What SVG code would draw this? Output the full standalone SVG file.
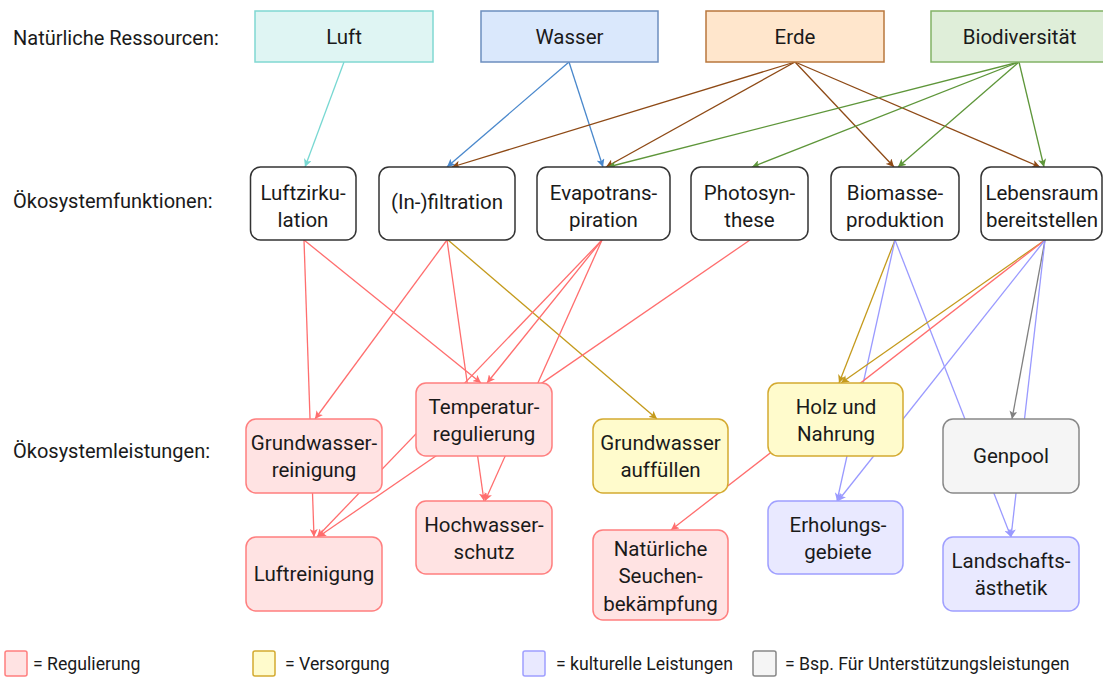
<svg xmlns="http://www.w3.org/2000/svg" width="1103" height="678" viewBox="0 0 1103 678">
<style>
text{font-family:Roboto,"Liberation Sans",sans-serif;fill:#1a1a1a;}
.lbl{font-size:20px;}
.t{font-size:20.5px;text-anchor:middle;}
.lg{font-size:17.7px;}
.fn{fill:#ffffff;stroke:#333333;stroke-width:1.5;}
.red{fill:#ffe3e3;stroke:#ff7f7f;stroke-width:1.5;}
.yel{fill:#fffbcc;stroke:#d4aa30;stroke-width:1.5;}
.pur{fill:#e9e9ff;stroke:#9f9fff;stroke-width:1.5;}
.gry{fill:#f5f5f5;stroke:#888888;stroke-width:1.5;}
.c{fill:none;stroke-width:1.3;}
.cy{stroke:#78d8d2;marker-end:url(#mcy);}
.bl{stroke:#4a88cc;marker-end:url(#mbl);}
.br{stroke:#8e4a16;marker-end:url(#mbr);}
.gr{stroke:#5e963a;marker-end:url(#mgr);}
.rd{stroke:#ff6e6e;marker-end:url(#mrd);}
.ol{stroke:#c49a1c;marker-end:url(#mol);}
.pu{stroke:#9a9aff;marker-end:url(#mpu);}
.gy{stroke:#808080;marker-end:url(#mgy);}
</style>
<defs>
<marker id="mcy" viewBox="0 0 8 8" refX="8" refY="4" markerWidth="8" markerHeight="8" markerUnits="userSpaceOnUse" orient="auto"><path d="M0,0 L8,4 L0,8 L2,4 z" fill="#78d8d2"/></marker>
<marker id="mbl" viewBox="0 0 8 8" refX="8" refY="4" markerWidth="8" markerHeight="8" markerUnits="userSpaceOnUse" orient="auto"><path d="M0,0 L8,4 L0,8 L2,4 z" fill="#4a88cc"/></marker>
<marker id="mbr" viewBox="0 0 8 8" refX="8" refY="4" markerWidth="8" markerHeight="8" markerUnits="userSpaceOnUse" orient="auto"><path d="M0,0 L8,4 L0,8 L2,4 z" fill="#8e4a16"/></marker>
<marker id="mgr" viewBox="0 0 8 8" refX="8" refY="4" markerWidth="8" markerHeight="8" markerUnits="userSpaceOnUse" orient="auto"><path d="M0,0 L8,4 L0,8 L2,4 z" fill="#5e963a"/></marker>
<marker id="mrd" viewBox="0 0 8 8" refX="8" refY="4" markerWidth="8" markerHeight="8" markerUnits="userSpaceOnUse" orient="auto"><path d="M0,0 L8,4 L0,8 L2,4 z" fill="#ff6e6e"/></marker>
<marker id="mol" viewBox="0 0 8 8" refX="8" refY="4" markerWidth="8" markerHeight="8" markerUnits="userSpaceOnUse" orient="auto"><path d="M0,0 L8,4 L0,8 L2,4 z" fill="#c49a1c"/></marker>
<marker id="mpu" viewBox="0 0 8 8" refX="8" refY="4" markerWidth="8" markerHeight="8" markerUnits="userSpaceOnUse" orient="auto"><path d="M0,0 L8,4 L0,8 L2,4 z" fill="#9a9aff"/></marker>
<marker id="mgy" viewBox="0 0 8 8" refX="8" refY="4" markerWidth="8" markerHeight="8" markerUnits="userSpaceOnUse" orient="auto"><path d="M0,0 L8,4 L0,8 L2,4 z" fill="#808080"/></marker>
</defs>
<rect width="1103" height="678" fill="#ffffff"/>

<g id="row-labels">
<text class="lbl" x="13" y="45">Natürliche Ressourcen:</text>
<text class="lbl" x="13" y="208">Ökosystemfunktionen:</text>
<text class="lbl" x="13" y="458">Ökosystemleistungen:</text>
</g>

<g id="connectors">
<line class="c cy" x1="344" y1="62" x2="305" y2="167"/>
<line class="c bl" x1="569" y1="62" x2="447" y2="167"/>
<line class="c bl" x1="569" y1="62" x2="603" y2="167"/>
<line class="c br" x1="795" y1="62" x2="452" y2="167"/>
<line class="c br" x1="795" y1="62" x2="606" y2="167"/>
<line class="c br" x1="795" y1="62" x2="894" y2="167"/>
<line class="c br" x1="795" y1="62" x2="1040" y2="167"/>
<line class="c gr" x1="1019" y1="62" x2="608" y2="167"/>
<line class="c gr" x1="1019" y1="62" x2="752" y2="167"/>
<line class="c gr" x1="1019" y1="62" x2="898" y2="167"/>
<line class="c gr" x1="1019" y1="62" x2="1044" y2="167"/>

<line class="c rd" x1="304" y1="240" x2="314" y2="537"/>
<line class="c rd" x1="304" y1="240" x2="481" y2="383"/>
<line class="c rd" x1="447" y1="240" x2="315" y2="419"/>
<line class="c rd" x1="447" y1="240" x2="484" y2="501"/>
<line class="c ol" x1="448" y1="240" x2="657" y2="419"/>
<line class="c rd" x1="602" y1="240" x2="487" y2="383"/>
<line class="c rd" x1="602" y1="240" x2="317" y2="537"/>
<line class="c rd" x1="602" y1="240" x2="485" y2="501"/>
<line class="c rd" x1="750" y1="240" x2="318" y2="537"/>
<line class="c ol" x1="895" y1="240" x2="839" y2="383"/>
<line class="c pu" x1="895" y1="240" x2="837" y2="501"/>
<line class="c pu" x1="895" y1="240" x2="1011" y2="537"/>
<line class="c ol" x1="1045" y1="240" x2="841" y2="383"/>
<line class="c rd" x1="1045" y1="240" x2="671" y2="530"/>
<line class="c pu" x1="1045" y1="240" x2="838" y2="501"/>
<line class="c gy" x1="1045" y1="240" x2="1012" y2="419"/>
<line class="c pu" x1="1045" y1="240" x2="1011" y2="537"/>
</g>

<g id="luft"><rect x="255" y="11" width="178" height="51" fill="#dff5f3" stroke="#80d8d2" stroke-width="1.5"/><text class="t" x="344" y="44">Luft</text></g>
<g id="wasser"><rect x="481" y="11" width="177" height="51" fill="#dae8fc" stroke="#6c8ebf" stroke-width="1.5"/><text class="t" x="569.5" y="44">Wasser</text></g>
<g id="erde"><rect x="706" y="11" width="178" height="51" fill="#ffe6cc" stroke="#b9773c" stroke-width="1.5"/><text class="t" x="795" y="44">Erde</text></g>
<g id="biodiversitaet"><rect x="931" y="11" width="177" height="51" fill="#dfeed9" stroke="#82b366" stroke-width="1.5"/><text class="t" x="1019.5" y="44">Biodiversität</text></g>

<g id="luftzirkulation"><rect class="fn" x="250.5" y="167" width="105.5" height="73" rx="10"/><text class="t" x="303" y="200">Luftzirku-</text><text class="t" x="303" y="227">lation</text></g>
<g id="infiltration"><rect class="fn" x="379" y="167" width="136" height="73" rx="10"/><text class="t" x="447" y="209">(In-)filtration</text></g>
<g id="evapotranspiration"><rect class="fn" x="537" y="167" width="133" height="73" rx="10"/><text class="t" x="603.5" y="200">Evapotrans-</text><text class="t" x="603.5" y="227">piration</text></g>
<g id="photosynthese"><rect class="fn" x="691" y="167" width="117" height="73" rx="10"/><text class="t" x="749.5" y="200">Photosyn-</text><text class="t" x="749.5" y="227">these</text></g>
<g id="biomasseproduktion"><rect class="fn" x="831" y="167" width="128" height="73" rx="10"/><text class="t" x="895" y="200">Biomasse-</text><text class="t" x="895" y="227">produktion</text></g>
<g id="lebensraum"><rect class="fn" x="981" y="167" width="121" height="73" rx="10"/><text class="t" x="1042" y="200">Lebensraum</text><text class="t" x="1042" y="227">bereitstellen</text></g>

<g id="grundwasserreinigung"><rect class="red" x="246" y="419" width="136" height="74" rx="10"/><text class="t" x="314" y="450">Grundwasser-</text><text class="t" x="314" y="477">reinigung</text></g>
<g id="temperaturregulierung"><rect class="red" x="416" y="383" width="136" height="73" rx="10"/><text class="t" x="484" y="414">Temperatur-</text><text class="t" x="484" y="441">regulierung</text></g>
<g id="luftreinigung"><rect class="red" x="246" y="537" width="136" height="74" rx="10"/><text class="t" x="314" y="581">Luftreinigung</text></g>
<g id="hochwasserschutz"><rect class="red" x="416" y="501" width="136" height="73" rx="10"/><text class="t" x="484" y="532">Hochwasser-</text><text class="t" x="484" y="559">schutz</text></g>
<g id="grundwasser-auffuellen"><rect class="yel" x="593" y="419" width="135" height="74" rx="10"/><text class="t" x="660.5" y="450">Grundwasser</text><text class="t" x="660.5" y="477">auffüllen</text></g>
<g id="seuchenbekaempfung"><rect class="red" x="593" y="530" width="135" height="90" rx="10"/><text class="t" x="660.5" y="556">Natürliche</text><text class="t" x="660.5" y="583">Seuchen-</text><text class="t" x="660.5" y="611">bekämpfung</text></g>
<g id="holz-nahrung"><rect class="yel" x="768" y="383" width="135" height="73" rx="10"/><text class="t" x="836" y="414">Holz und</text><text class="t" x="836" y="441">Nahrung</text></g>
<g id="erholungsgebiete"><rect class="pur" x="768" y="501" width="135" height="73" rx="10"/><text class="t" x="838" y="532">Erholungs-</text><text class="t" x="838" y="559">gebiete</text></g>
<g id="genpool"><rect class="gry" x="943" y="419" width="136" height="74" rx="10"/><text class="t" x="1011" y="463">Genpool</text></g>
<g id="landschaftsaesthetik"><rect class="pur" x="943" y="537" width="136" height="74" rx="10"/><text class="t" x="1011" y="568">Landschafts-</text><text class="t" x="1011" y="595">ästhetik</text></g>

<g id="legend">
<rect class="red" x="5" y="651" width="22" height="25" rx="2"/><text class="lg" x="33" y="670">= Regulierung</text>
<rect class="yel" x="253" y="651" width="22" height="25" rx="2"/><text class="lg" x="285" y="670">= Versorgung</text>
<rect class="pur" x="523" y="651" width="22" height="25" rx="2"/><text class="lg" x="556" y="670">= kulturelle Leistungen</text>
<rect class="gry" x="753" y="651" width="23" height="25" rx="2"/><text class="lg" x="785" y="670">= Bsp. Für Unterstützungsleistungen</text>
</g>
</svg>
